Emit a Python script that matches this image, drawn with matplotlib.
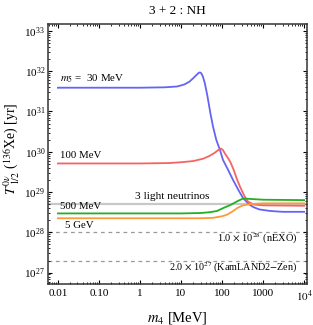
import numpy as np
import matplotlib
matplotlib.use('Agg')
import matplotlib.pyplot as plt

plt.rcParams['font.family'] = ['Liberation Serif', 'DejaVu Serif']
plt.rcParams['mathtext.fontset'] = 'stix'

# m5 = 30 MeV
m4_blue = [0.01, 1, 4, 8, 12, 16, 20, 24, 27, 29, 31, 34, 38, 44, 52, 60, 72, 89, 105, 140,
           185, 250, 324, 450, 570, 800, 1500, 3000, 10000]
logT_blue = [31.59, 31.59, 31.60, 31.62, 31.67, 31.74, 31.83, 31.91, 31.96, 31.97, 31.95,
             31.87, 31.70, 31.38, 30.95, 30.63, 30.30, 30.04, 29.80, 29.55, 29.30, 29.05,
             28.85, 28.70, 28.63, 28.57, 28.53, 28.51, 28.51]
# m5 = 100 MeV
m4_red = [0.01, 1, 5, 10, 20, 35, 50, 65, 80, 94, 105, 120, 140, 160, 190, 230, 277, 350,
          430, 600, 1000, 10000]
logT_red = [29.71, 29.71, 29.72, 29.74, 29.77, 29.83, 29.90, 29.97, 30.04, 30.08, 30.04,
            29.94, 29.84, 29.74, 29.56, 29.32, 29.12, 28.90, 28.76, 28.69, 28.67, 28.66]
# m5 = 500 MeV
m4_green = [0.01, 10, 30, 50, 75, 105, 160, 233, 324, 475, 1000, 10000]
logT_green = [28.47, 28.47, 28.48, 28.50, 28.53, 28.60, 28.68, 28.77, 28.84, 28.83,
              28.81, 28.80]
# m5 = 5 GeV
m4_orange = [0.01, 30, 60, 100, 133, 180, 240, 324, 475, 1000, 10000]
logT_orange = [28.35, 28.35, 28.36, 28.40, 28.44, 28.52, 28.61, 28.67, 28.70, 28.72, 28.72]

T_light = 5.2e28
T_nexo = 1.0e28
T_kamland = 2.0e27

xticks = [0.01, 0.1, 1, 10, 100, 1000, 1e4]
xticklabels = ['0.01', '0.10', '1', '10', '100', '1000', '$10^4$']
yticks = [1e27, 1e28, 1e29, 1e30, 1e31, 1e32, 1e33]

fig = plt.figure(figsize=(3.13, 3.25), dpi=100)
ax = fig.add_axes([0.153, 0.126, 0.828, 0.80])

ax.axhline(T_light, color='#c8c8c8', lw=1.6, zorder=1)
ax.axhline(T_nexo, color='#999999', lw=0.9, ls=(0, (3, 3)), zorder=1)
ax.axhline(T_kamland, color='#999999', lw=0.9, ls=(0, (3, 3)), zorder=1)

ax.plot(m4_blue, 10 ** np.array(logT_blue), color='#6464f5', lw=1.3)
ax.plot(m4_red, 10 ** np.array(logT_red), color='#f56464', lw=1.3)
ax.plot(m4_green, 10 ** np.array(logT_green), color='#22b022', lw=1.3)
ax.plot(m4_orange, 10 ** np.array(logT_orange), color='#ff9a3c', lw=1.3)

ax.set_xscale('log')
ax.set_yscale('log')
ax.set_xlim(10 ** -2.244, 10 ** 4.07)
ax.set_ylim(10 ** 26.717, 10 ** 33.17)
ax.set_xticks(xticks)
ax.set_xticklabels(xticklabels)
ax.set_yticks(yticks)
ax.tick_params(which='both', direction='in', top=True, right=True, labelsize=8)
ax.tick_params(which='major', length=3)
ax.tick_params(which='minor', length=1.5)
ax.tick_params(axis='y', pad=2)
for s in ax.spines.values():
    s.set_linewidth(1.1)
    s.set_color('#333333')

fs = 7.8
ax.text(0.0115, 4.6e31, '$m_5$ =  30 MeV', fontsize=fs, va='bottom')
ax.text(0.0115, 6.1e29, '100 MeV', fontsize=fs, va='bottom')
ax.text(0.76, 6.0e28, '3 light neutrinos', fontsize=8.2, va='bottom')
ax.text(0.0115, 3.35e28, '500 MeV', fontsize=fs, va='bottom')
ax.text(0.0145, 1.15e28, '5 GeV', fontsize=fs, va='bottom')
ax.text(7000, 7.0e27, r'1.0 $\times$ 10$^{28}$ (nEXO)', fontsize=7.5, ha='right', va='center')
ax.text(7000, 1.35e27, r'2.0 $\times$ 10$^{27}$ (KamLAND2$-$Zen)', fontsize=7.3,
        ha='right', va='center')

ax.set_title('3 + 2 : NH', fontsize=9.5, pad=7)
ax.set_xlabel('$m_4$ [MeV]', fontsize=10.5, labelpad=4)
ax.set_ylabel(r'$T^{0\nu}_{\ 1/2}$ ($^{136}$Xe) [yr]', fontsize=10)
ax.yaxis.set_label_coords(-0.1, 0.52)

fig.savefig('out.png', dpi=100)
